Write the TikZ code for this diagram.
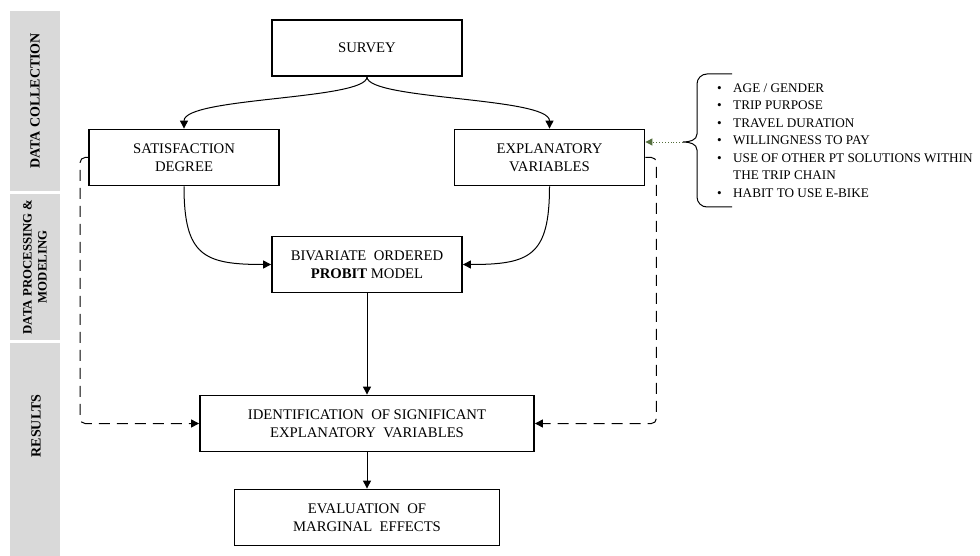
\documentclass[tikz,border=0pt]{standalone}
\usepackage{fontspec}
\setmainfont{Liberation Serif}
\usetikzlibrary{arrows.meta}
\definecolor{hintgreen}{RGB}{84,110,60}
\newcommand{\listbullet}{\makebox[16pt][l]{\textbullet}}

\begin{document}
\begin{tikzpicture}[x=1pt,y=-1pt,
  stagebox/.style={draw=black,line width=1.8pt,fill=white,minimum width=190pt,minimum height=56pt,align=center,inner sep=2pt,font=\fontsize{14.7}{18.5}\selectfont},
  band/.style={fill=black!15,draw=none},
  bandlabel/.style={rotate=90,align=center,font=\fontsize{14}{15.5}\selectfont\bfseries},
  flow/.style={-{Triangle[length=8pt,width=8pt]},line width=1pt},
  feedback/.style={flow,dash pattern=on 11pt off 7pt,rounded corners=5pt},
  hint/.style={-{Triangle[length=7pt,width=7pt]},line width=0.9pt,dotted,color=hintgreen}]
\useasboundingbox (0.000000,0.000000) rectangle (980.000000,556.000000);
% Drawing bands
\fill[band] (10.000000,11.000000) rectangle (60.000000,191.000000);
\fill[band] (10.000000,194.000000) rectangle (60.000000,340.000000);
\fill[band] (10.000000,343.000000) rectangle (60.000000,556.000000);
\node[bandlabel] (collect) at (35.000000,101.000000) {DATA COLLECTION};
\node[bandlabel,font=\fontsize{12.8}{15}\selectfont\bfseries] (process) at (35.000000,267.000000) {DATA PROCESSING \&\\MODELING};
\node[bandlabel] (results) at (36.000000,426.000000) {RESULTS};
% Done with bands; drawing boxes
\node[stagebox] (survey) at (367.000000,48.000000) {SURVEY};
\node[stagebox] (satisf) at (184.000000,157.500000) {SATISFACTION\\DEGREE};
\node[stagebox] (explan) at (549.500000,157.500000) {EXPLANATORY\\VARIABLES};
\node[stagebox] (probit) at (367.000000,264.500000) {BIVARIATE\ \ ORDERED\\\textbf{PROBIT} MODEL};
\node[stagebox,minimum width=334pt] (ident) at (367.000000,423.500000) {IDENTIFICATION\ \ OF SIGNIFICANT\\EXPLANATORY\ \ VARIABLES};
\node[stagebox,minimum width=265pt] (evalm) at (367.000000,517.500000) {EVALUATION\ \ OF\\MARGINAL\ \ EFFECTS};
% Done with boxes; drawing arrows
\draw[flow] (survey.south) .. controls (367.000000,100.000000) and (184.000000,97.000000) .. (satisf.north);
\draw[flow] (survey.south) .. controls (367.000000,100.000000) and (549.500000,97.000000) .. (explan.north);
\draw[flow] (satisf.south) .. controls (184.000000,256.000000) and (204.000000,264.500000) .. (probit.west);
\draw[flow] (explan.south) .. controls (549.500000,256.000000) and (530.000000,264.500000) .. (probit.east);
\draw[flow] (probit.south) -- (ident.north);
\draw[flow] (ident.south) -- (evalm.north);
\draw[feedback] (satisf.west) -- ++(-8.000000,0.000000) |- (ident.west);
\draw[feedback] (explan.east) -- ++(11.000000,0.000000) |- (ident.east);
% Done with arrows; drawing variable list
\coordinate (bracetip) at (683.000000,142.000000);
\draw[line width=1pt] (732.000000,74.000000) -- (707.000000,74.000000) to[out=180,in=90] (697.000000,84.000000) -- (697.000000,134.000000) to[out=-90,in=0] (bracetip) to[out=0,in=90] (697.000000,150.000000) -- (697.000000,197.000000) to[out=-90,in=180] (707.000000,207.000000) -- (732.000000,207.000000);
\draw[hint] (bracetip) -- (bracetip -| explan.east);
\node[anchor=north west,inner sep=0pt,align=left,font=\fontsize{13.2}{17.5}\selectfont] (varlist) at (717.000000,83.500000) {\listbullet AGE / GENDER\\\listbullet TRIP PURPOSE\\\listbullet TRAVEL DURATION\\\listbullet WILLINGNESS TO PAY\\\listbullet USE OF OTHER PT SOLUTIONS WITHIN\\\hspace*{16pt}THE TRIP CHAIN\\\listbullet HABIT TO USE E-BIKE};
% Done with variable list
\end{tikzpicture}
\end{document}
